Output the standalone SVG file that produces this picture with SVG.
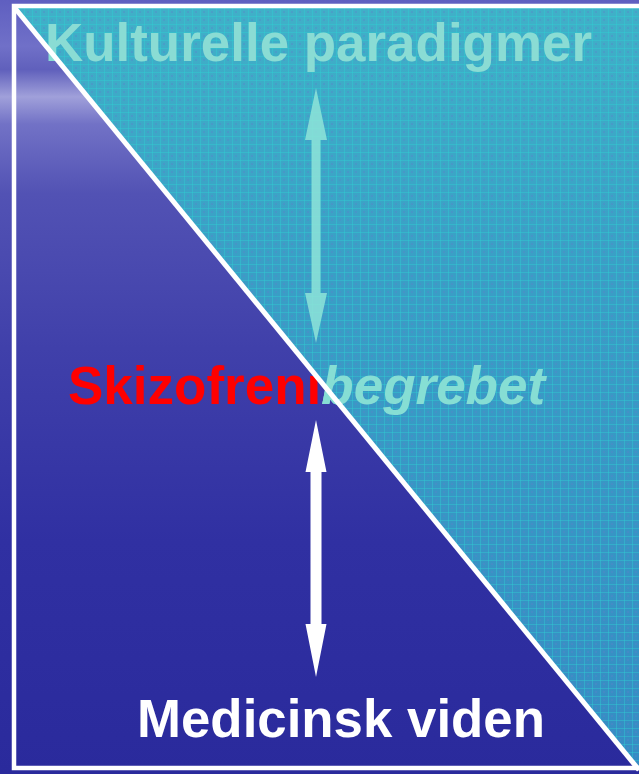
<svg xmlns="http://www.w3.org/2000/svg" width="639" height="774" viewBox="0 0 639 774">
<defs>
<linearGradient id="blueBg" x1="0" y1="0" x2="0" y2="1">
<stop offset="0" stop-color="#5f5fc0"/>
<stop offset="0.06" stop-color="#7070c8"/>
<stop offset="0.09" stop-color="#6060bc"/>
<stop offset="0.125" stop-color="#a0a0da"/>
<stop offset="0.16" stop-color="#7272c6"/>
<stop offset="0.25" stop-color="#5252b4"/>
<stop offset="0.45" stop-color="#4040aa"/>
<stop offset="0.7" stop-color="#3030a2"/>
<stop offset="1" stop-color="#2a2a9c"/>
</linearGradient>
<linearGradient id="tealBg" x1="0" y1="0" x2="0" y2="1">
<stop offset="0" stop-color="#40b0c8"/>
<stop offset="0.35" stop-color="#3a9ec6"/>
<stop offset="1" stop-color="#368cc4"/>
</linearGradient>
<pattern id="grid" width="8" height="8" patternUnits="userSpaceOnUse">
<path d="M0 0.5H8M0.5 0V8" stroke="#2cd2d2" stroke-width="1" fill="none" opacity="0.4"/>
<rect x="3" y="3" width="2" height="2" fill="#5a80c8" opacity="0.35"/>
</pattern>
<style>
.t{font-family:"Liberation Sans",Arial,sans-serif;font-weight:bold;font-size:53px}
.border{stroke:#ffffff;stroke-width:4.5;fill:none}
</style>
</defs>
<rect x="0" y="0" width="639" height="774" fill="url(#blueBg)"/>
<g id="node-skizofreni">
<text class="t" x="68" y="404"><tspan fill="#ff0000">Skizofreni</tspan><tspan fill="#8ae4d6" font-style="italic">begrebet</tspan></text>
</g>
<g id="teal-region">
<polygon points="14,7 639,7 639,768" fill="url(#tealBg)"/>
<polygon points="14,7 639,7 639,768" fill="url(#grid)"/>
</g>
<g id="node-begrebet">
<text class="t" x="68" y="404" fill="#86ded4"><tspan fill="none">Skizofreni</tspan><tspan font-style="italic">begrebet</tspan></text>
</g>
<g id="node-kulturelle">
<text class="t" x="45" y="61" fill="#8adcd4" textLength="547" lengthAdjust="spacingAndGlyphs">Kulturelle paradigmer</text>
</g>
<g id="node-medicinsk">
<text class="t" x="137" y="737" fill="#ffffff" font-size="56" textLength="408" lengthAdjust="spacingAndGlyphs">Medicinsk viden</text>
</g>
<g id="frame">
<polyline class="border" points="639,6 14,6 14,768 639,768"/>
<line x1="14" y1="7" x2="639" y2="770" stroke="#ffffff" stroke-width="5"/>
</g>
<g id="connectors">
<polygon points="316,88 327,140 320.5,140 320.5,293 327,293 316,343 305,293 311.5,293 311.5,140 305,140" fill="#8ee4d8" opacity="0.85"/>
<polygon points="316,420 326.5,472 321.5,472 321.5,624 326.5,624 316,677 305.5,624 310.5,624 310.5,472 305.5,472" fill="#ffffff"/>
</g>
</svg>
